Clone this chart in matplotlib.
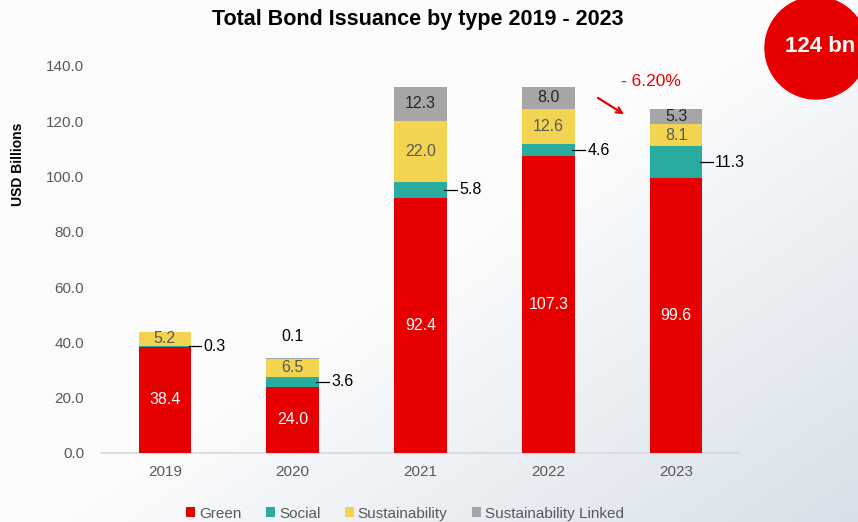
import numpy as np
import matplotlib
matplotlib.use("Agg")
import matplotlib.pyplot as plt
from matplotlib.patches import Circle

plt.rcParams['font.family'] = ['Liberation Sans', 'DejaVu Sans']

years = ['2019', '2020', '2021', '2022', '2023']
green = [38.4, 24.0, 92.4, 107.3, 99.6]
social = [0.3, 3.6, 5.8, 4.6, 11.3]
sustainability = [5.2, 6.5, 22.0, 12.6, 8.1]
linked = [0.0, 0.1, 12.3, 8.0, 5.3]
series_names = ['Green', 'Social', 'Sustainability', 'Sustainability Linked']
colors = ['#e60000', '#2aab9f', '#f2d450', '#a6a6a6']

fig = plt.figure(figsize=(8.58, 5.22), dpi=100)

# soft background gradient
bg = fig.add_axes([0, 0, 1, 1], zorder=-10)
gx, gy = np.meshgrid(np.linspace(0, 1, 200), np.linspace(0, 1, 200))
g = np.clip((gx * 0.9 + gy * 0.8) - 0.85, 0, 1)
top = np.array([0.985, 0.988, 0.992])
bottom = np.array([0.82, 0.86, 0.90])
img = top[None, None, :] * (1 - g[..., None]) + bottom[None, None, :] * g[..., None]
bg.imshow(img, aspect='auto', extent=[0, 1, 0, 1], origin='upper')
bg.axis('off')

ax = fig.add_axes([0.1177, 0.1322, 0.7448, 0.7414])
ax.patch.set_alpha(0)
x = np.arange(len(years))
w = 0.41

base = np.zeros(len(years))
bars = []
for vals, c, name in zip([green, social, sustainability, linked], colors, series_names):
    ax.bar(x, vals, w, bottom=base, color=c, label=name, zorder=3)
    bars.append((np.array(vals), base.copy()))
    base = base + np.array(vals)

fs = 11.5
# green labels inside
for i, v in enumerate(green):
    ax.text(x[i], v / 2, f'{v:.1f}', ha='center', va='center', color='white', fontsize=fs, zorder=5)

# social labels outside with leader line
sv, sb = bars[1]
for i, v in enumerate(social):
    ym = sb[i] + v / 2
    x0 = x[i] + w / 2
    ax.plot([x0 - 0.02, x0 + 0.08], [ym, ym], color='black', lw=0.9, zorder=5)
    ax.text(x0 + 0.1, ym, f'{v:.1f}', ha='left', va='center', color='black', fontsize=fs, zorder=5)

# sustainability labels inside
uv, ub = bars[2]
for i, v in enumerate(sustainability):
    ax.text(x[i], ub[i] + v / 2, f'{v:.1f}', ha='center', va='center', color='#595959', fontsize=fs, zorder=5)

# linked labels
lv, lb = bars[3]
for i, v in enumerate(linked):
    if v == 0:
        continue
    if v < 1:
        ax.text(x[i], lb[i] + v + 7.8, f'{v:.1f}', ha='center', va='center', color='black', fontsize=fs, zorder=5)
    else:
        ax.text(x[i], lb[i] + v / 2, f'{v:.1f}', ha='center', va='center', color='#262626', fontsize=fs, zorder=5)

ax.set_xlim(-0.5, 4.5)
ax.set_ylim(0, 140)
ax.set_xticks(x)
ax.set_xticklabels(years)
ax.set_yticks(np.arange(0, 141, 20))
ax.set_yticklabels([f'{v:.1f}' for v in np.arange(0, 141, 20)])
ax.tick_params(axis='both', length=0, colors='#595959', labelsize=11)
ax.tick_params(axis='x', pad=9)
ax.tick_params(axis='y', pad=12)
for s in ['top', 'right', 'left']:
    ax.spines[s].set_visible(False)
ax.spines['bottom'].set_color('#d9d9d9')
ax.spines['bottom'].set_linewidth(1.2)

fig.text(0.021, 0.685, 'USD Billions', rotation=90, ha='center', va='center',
         fontsize=10, fontweight='bold', color='black')
fig.text(0.487, 0.962, 'Total Bond Issuance by type 2019 - 2023', ha='center', va='center',
         fontsize=15.5, fontweight='bold', color='black')

# change annotation
ax.annotate('', xy=(3.61, 122), xytext=(3.37, 129),
            arrowprops=dict(arrowstyle='->', color='#e60000', lw=1.6), annotation_clip=False)
ax.text(3.8, 134.5, '- 6.20%', ha='center', va='center', color='#e60000', fontsize=12.5, clip_on=False)

# red circle badge
circ = Circle((8.16, 4.74), 0.51, transform=fig.dpi_scale_trans, color='#e60000', zorder=20)
fig.patches.append(circ)
fig.text(8.2 / 8.58, 4.76 / 5.22, '124 bn', ha='center', va='center', color='white',
         fontsize=16, fontweight='bold', zorder=21)

handles, labels = ax.get_legend_handles_labels()
fig.legend(handles, labels, loc='center', bbox_to_anchor=(0.472, 0.016), ncol=4,
           frameon=False, fontsize=11, handlelength=0.6, handleheight=0.6,
           handletextpad=0.25, columnspacing=1.6, labelcolor='#595959')

fig.savefig('out.png', dpi=100)
